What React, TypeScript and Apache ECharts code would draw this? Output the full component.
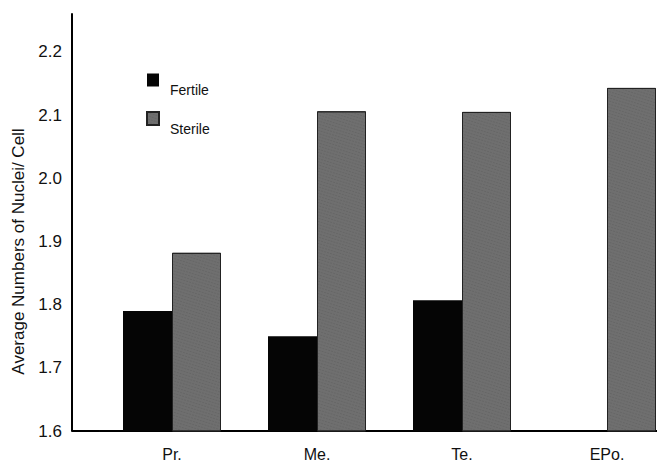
import React, { useEffect, useRef } from "react";
import * as echarts from "echarts";

const categories = ["Pr.", "Me.", "Te.", "EPo."];
const fertile: (number | null)[] = [1.79, 1.75, 1.807, null];
const sterile = [1.882, 2.106, 2.105, 2.143];
const yMin = 1.6;
const yMax = 2.26;
const yStep = 0.1;

const FONT = "'Liberation Sans', Arial, Helvetica, sans-serif";

export default function App() {
  const ref = useRef<HTMLDivElement>(null);
  useEffect(() => {
    if (!ref.current) return;
    const chart = echarts.init(ref.current, undefined, { renderer: "svg" });
    const gridLeft = 99.5;
    const axisOffset = 27.5;
    const gridTop = 14;
    const gridBottom = 32;
    chart.setOption({
      animation: false,
      backgroundColor: "#ffffff",
      textStyle: { fontFamily: FONT },
      grid: {
        left: gridLeft,
        top: gridTop,
        bottom: gridBottom,
        width: 580,
        containLabel: false,
        outerBoundsMode: "none",
      },
      legend: {
        orient: "vertical",
        left: 141,
        top: 68.5,
        itemWidth: 12,
        itemHeight: 13,
        itemGap: 14,
        icon: "rect",
        selectedMode: false,
        formatter: "{t|{name}}",
        textStyle: {
          fontFamily: FONT,
          fontSize: 14,
          color: "#111",
          rich: {
            t: {
              fontFamily: FONT,
              fontSize: 14,
              color: "#111",
              lineHeight: 34,
              verticalAlign: "bottom",
              padding: [0, 0, 0, 6],
            },
          },
        },
        data: ["Fertile", "Sterile"],
      },
      xAxis: {
        type: "category",
        data: categories,
        axisLine: { lineStyle: { color: "#000", width: 2 } },
        axisTick: { show: false },
        axisLabel: { fontFamily: FONT, fontSize: 16, color: "#111", margin: 15 },
      },
      yAxis: {
        type: "value",
        min: yMin,
        max: yMax,
        interval: yStep,
        offset: axisOffset,
        name: "Average Numbers of Nuclei/ Cell",
        nameLocation: "middle",
        nameGap: 43,
        nameTextStyle: { fontFamily: FONT, fontSize: 17, color: "#111", padding: [0, 58, 0, 0] },
        axisLine: { show: true, lineStyle: { color: "#000", width: 2 } },
        axisTick: { show: false },
        splitLine: { show: false },
        axisLabel: {
          fontFamily: FONT,
          fontSize: 17,
          color: "#111",
          margin: 10,
          showMaxLabel: false,
          formatter: (v: number) => v.toFixed(1),
        },
      },
      graphic: [
        {
          type: "line",
          shape: { x1: gridLeft - axisOffset, y1: 463 - gridBottom, x2: gridLeft, y2: 463 - gridBottom },
          style: { stroke: "#000", lineWidth: 2 },
        },
      ],
      series: [
        {
          name: "Fertile",
          type: "bar",
          data: fertile,
          barWidth: 49,
          barGap: "0%",
          itemStyle: { color: "#050505" },
        },
        {
          name: "Sterile",
          type: "bar",
          data: sterile,
          barWidth: 49,
          barGap: "0%",
          itemStyle: {
            color: "#6f6f6f",
            borderColor: "#222",
            borderWidth: 1,
            decal: {
              symbol: "rect",
              symbolSize: 0.6,
              color: "rgba(20,20,20,0.35)",
              dashArrayX: [2, 1],
              dashArrayY: [1, 2],
              rotation: 0.3,
            },
          },
        },
      ],
    });
    return () => chart.dispose();
  }, []);
  return <div ref={ref} style={{ width: 657, height: 463, position: "absolute", left: 0, top: 0 }} />;
}
